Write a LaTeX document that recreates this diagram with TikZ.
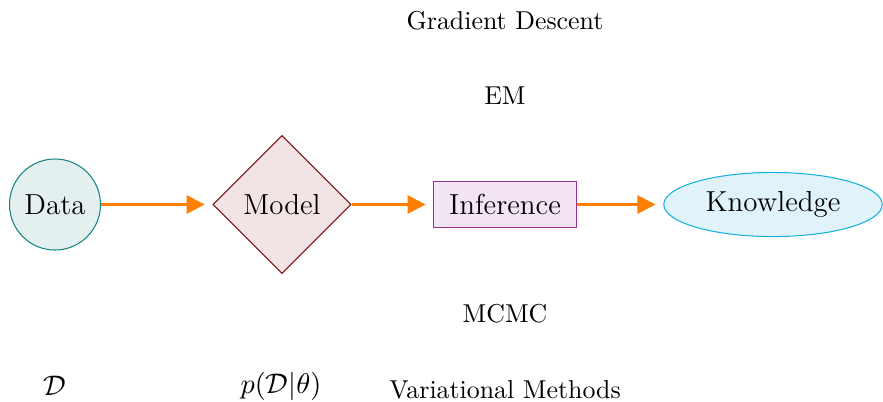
\documentclass[tikz,border=0pt]{standalone}
\usetikzlibrary{shapes.geometric,arrows.meta}
\definecolor{dataline}{RGB}{20,130,130}
\definecolor{datafill}{RGB}{228,240,240}
\definecolor{modelline}{RGB}{128,16,16}
\definecolor{modelfill}{RGB}{242,228,228}
\definecolor{infline}{RGB}{150,50,150}
\definecolor{inffill}{RGB}{242,228,242}
\definecolor{knowline}{RGB}{20,175,225}
\definecolor{knowfill}{RGB}{224,243,250}
\definecolor{arrowc}{RGB}{255,128,0}
\tikzset{
  mainfont/.style={font=\fontsize{11.2}{13}\selectfont},
  flow/.style={draw=arrowc, line width=1.1pt, -{Triangle[length=7pt,width=7pt]}, shorten >=3pt},
  lbl/.style={inner sep=0pt, anchor=center}
}
\begin{document}
\begin{tikzpicture}[x=0.3868pt,y=-0.3868pt]
\useasboundingbox (0,0) rectangle (883,401);
\node[mainfont, circle, draw=dataline, fill=datafill, minimum size=35.2pt, inner sep=0pt] (data) at (55,204.5) {Data};
\node[mainfont, diamond, draw=modelline, fill=modelfill, minimum width=53.4pt, minimum height=53.4pt, inner sep=0pt] (model) at (282,204.5) {Model};
\node[mainfont, rectangle, draw=infline, fill=inffill, minimum width=55pt, minimum height=17.8pt, inner sep=2pt] (inf) at (505,204.5) {Inference};
\node[mainfont, ellipse, draw=knowline, fill=knowfill, minimum width=84.5pt, minimum height=24.8pt, inner sep=0pt] (know) at (773,204.5) {Knowledge};
\draw[flow] (data) -- (model);
\draw[flow] (model) -- (inf);
\draw[flow] (inf) -- (know);
\node[lbl] (gd) at (505,21) {Gradient Descent};
\node[lbl] (em) at (505,96) {EM};
\node[lbl] (mcmc) at (505,314) {MCMC};
\node[lbl] (vm) at (505,390) {Variational Methods};
\node[lbl, mainfont] (dsym) at (55,386) {$\mathcal{D}$};
\node[lbl, mainfont] (lik) at (281,386) {$p(\mathcal{D}|\theta)$};
\end{tikzpicture}
\end{document}
